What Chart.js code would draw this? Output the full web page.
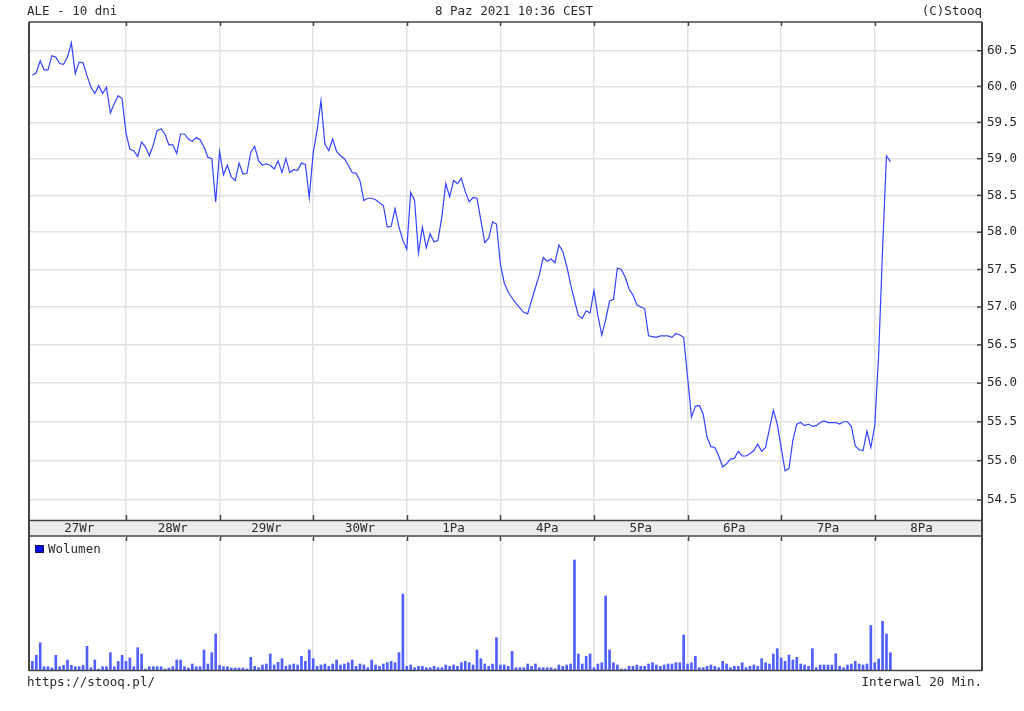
<!DOCTYPE html>
<html><head><meta charset="utf-8">
<script src="https://cdn.jsdelivr.net/npm/chart.js@4.4.0/dist/chart.umd.min.js"></script>
<style>
html,body{margin:0;padding:0;background:#fff;}
#wrap{position:relative;width:1024px;height:711px;background:#fff;}
canvas{position:absolute;left:0;top:0;}
</style></head><body>
<div id="wrap"><canvas id="price" width="1024" height="711"></canvas><canvas id="vol" width="1024" height="711"></canvas></div>
<script>
const titleText = "ALE - 10 dni";
const stampText = "8 Paz 2021 10:36 CEST";
const sourceText = "(C)Stooq";
const footLeft = "https://stooq.pl/";
const footRight = "Interwal 20 Min.";
const volumeLabel = "Wolumen";
const dayLabels = ["27Wr","28Wr","29Wr","30Wr","1Pa","4Pa","5Pa","6Pa","7Pa","8Pa"];
const barsPerDay = 24;
const priceTicks = [54.5,55.0,55.5,56.0,56.5,57.0,57.5,58.0,58.5,59.0,59.5,60.0,60.5];

const prices = [
60.16,60.19,60.36,60.23,60.23,60.43,60.41,60.32,60.31,60.41,
60.61,60.18,60.34,60.33,60.15,59.99,59.90,60.01,59.90,59.99,
59.63,59.76,59.87,59.83,59.35,59.13,59.11,59.03,59.23,59.16,
59.04,59.19,59.39,59.41,59.34,59.19,59.19,59.07,59.34,59.34,
59.27,59.24,59.29,59.26,59.16,59.02,59.00,58.41,59.10,58.78,
58.91,58.75,58.70,58.94,58.79,58.80,59.09,59.17,58.97,58.91,
58.93,58.91,58.86,58.97,58.81,59.00,58.81,58.85,58.84,58.94,
58.92,58.47,59.08,59.39,59.80,59.20,59.11,59.27,59.10,59.04,
59.00,58.91,58.81,58.80,58.70,58.43,58.46,58.46,58.44,58.40,
58.36,58.07,58.08,58.32,58.07,57.89,57.77,58.54,58.43,57.72,
58.07,57.79,57.98,57.87,57.89,58.21,58.66,58.48,58.70,58.66,
58.73,58.55,58.41,58.47,58.46,58.16,57.86,57.92,58.14,58.11,
57.57,57.32,57.20,57.12,57.05,56.99,56.93,56.91,57.09,57.26,
57.43,57.66,57.61,57.64,57.59,57.83,57.74,57.55,57.30,57.09,
56.89,56.85,56.95,56.92,57.22,56.89,56.63,56.83,57.08,57.10,
57.52,57.50,57.40,57.24,57.16,57.03,57.00,56.98,56.62,56.61,
56.60,56.62,56.62,56.62,56.60,56.65,56.63,56.60,56.08,55.56,
55.70,55.71,55.60,55.30,55.18,55.17,55.06,54.92,54.96,55.02,
55.03,55.12,55.06,55.06,55.09,55.13,55.21,55.12,55.17,55.41,
55.65,55.47,55.17,54.87,54.90,55.26,55.47,55.49,55.45,55.47,
55.44,55.45,55.49,55.51,55.49,55.49,55.49,55.47,55.50,55.50,
55.44,55.19,55.14,55.13,55.38,55.17,55.45,56.37,57.76,59.04,58.96
];

const volumes = [
8.7,14.7,27.3,3.3,3.3,2,14.7,3.3,4.7,10,
4.7,3.3,3.3,4.7,23.7,2.3,10,1,3.3,3.3,
17.3,3.3,8.7,14.7,8.7,12,3.3,22.3,16,1,
3.3,3.3,3.3,3.3,1,2,3.3,10,10,3.3,
2,6,3.3,3.3,20,6,17.3,36,4.7,3.3,
3.3,2,2,2,2,1,12.7,3.7,2.3,5,
6,16,5,7.7,11.3,3.7,5,6,5,13.7,
8.7,20,11.3,3.7,5,6,3.7,6,10,5,
6,7.3,10,3.7,6,5,2.3,10,5,3.7,
6,7.3,8.7,7.3,17.3,76,3.7,5,2.3,3.7,
3.7,2.3,2.3,3.7,2.3,2.3,5,3.7,5,3.7,
7.3,8.7,7.3,5,20,11.3,6,3.7,6,32.3,
5,5,3.7,18.7,2.3,2.3,2.3,6,3.7,6,
2.3,2.3,2.3,2.3,1.3,5,3.7,5,6,110,
16,6,13.7,16,2.3,6,7.3,74,20,7.3,
5,1,1,3.7,3.7,5,3.7,3.7,6,7.3,
5,3.7,5,6,6,7.3,7.3,35,6,7.3,
13.7,2.3,2.3,3.7,5,3.7,2.3,8.7,6,2.3,
3.7,3.7,7.3,2.3,3.7,5,3.7,11.3,7.3,6,
16,21.3,12,8.7,15,10,12.7,6,5,3.7,
21.3,2.3,5,5,5,5,16.3,3.7,2.3,5,
6,8.7,6,5,6,44.7,7.3,11,48.7,36,17.3
];

const FONT = "'DejaVu Sans Mono', monospace";
const FSIZE = 12.5;
const TXT = '#2a2a2a';
const FRAME = '#444';
const GRID = '#e2e2e2';
const xMin = -0.87, xMax = 243.5;
const dayBounds = dayLabels.slice(1).map((_, i) => (i + 1) * barsPerDay);

function line(ctx, x1, y1, x2, y2, w, c) {
  ctx.save(); ctx.strokeStyle = c; ctx.lineWidth = w;
  ctx.beginPath(); ctx.moveTo(x1, y1); ctx.lineTo(x2, y2); ctx.stroke(); ctx.restore();
}

const priceDecor = {
  id: 'priceDecor',
  afterDraw(chart) {
    const ctx = chart.ctx, a = chart.chartArea;
    const xs = chart.scales.x, ys = chart.scales.y;
    ctx.save();
    ctx.font = FSIZE + 'px ' + FONT;
    ctx.fillStyle = TXT;
    ctx.textBaseline = 'alphabetic';
    ctx.textAlign = 'left'; ctx.fillText(titleText, 27, 15);
    ctx.textAlign = 'center'; ctx.fillText(stampText, 514, 15);
    ctx.textAlign = 'right'; ctx.fillText(sourceText, a.right, 15);
    ctx.textAlign = 'left'; ctx.fillText(footLeft, 27, 686);
    ctx.textAlign = 'right'; ctx.fillText(footRight, a.right, 686);
    // date band
    const bTop = a.bottom, bBot = bTop + 16;
    ctx.fillStyle = '#ebebeb';
    ctx.fillRect(a.left, bTop, a.right - a.left, bBot - bTop);
    line(ctx, a.left, bTop + 0.5, a.right, bTop + 0.5, 1.6, FRAME);
    line(ctx, a.left, bBot, a.right, bBot, 1.6, FRAME);
    ctx.fillStyle = TXT; ctx.textAlign = 'center'; ctx.textBaseline = 'middle';
    dayLabels.forEach((lab, i) => {
      const s = Math.max(i * barsPerDay, xMin), e = Math.min((i + 1) * barsPerDay, xMax);
      ctx.fillText(lab, xs.getPixelForValue((s + e) / 2), (bTop + bBot) / 2 + 1);
    });
    // frame of price panel
    line(ctx, a.left, a.top, a.right, a.top, 1.6, FRAME);
    line(ctx, a.left, a.top, a.left, bBot, 2, FRAME);
    line(ctx, a.right, a.top, a.right, bBot, 2, FRAME);
    // tick marks at day boundaries
    dayBounds.forEach(v => {
      const px = Math.round(xs.getPixelForValue(v)) + 0.5;
      line(ctx, px, a.top, px, a.top + 4, 1.5, FRAME);
      line(ctx, px, bTop - 5, px, bTop, 1.5, FRAME);
    });
    // inward y ticks
    priceTicks.forEach(v => {
      const py = ys.getPixelForValue(v);
      line(ctx, a.right - 5, py, a.right, py, 1.5, FRAME);
    });
    ctx.restore();
  }
};

const volDecor = {
  id: 'volDecor',
  afterDraw(chart) {
    const ctx = chart.ctx, a = chart.chartArea, xs = chart.scales.x;
    ctx.save();
    line(ctx, a.left, a.top, a.left, a.bottom + 1, 2, FRAME);
    line(ctx, a.right, a.top, a.right, a.bottom + 1, 2, FRAME);
    line(ctx, a.left, a.bottom + 0.5, a.right, a.bottom + 0.5, 1.6, FRAME);
    dayBounds.forEach(v => {
      const px = Math.round(xs.getPixelForValue(v)) + 0.5;
      line(ctx, px, a.top, px, a.top + 5, 1.5, FRAME);
    });
    ctx.fillStyle = '#0010e0';
    ctx.fillRect(35, 545, 9, 8);
    ctx.strokeStyle = '#101060'; ctx.lineWidth = 1;
    ctx.strokeRect(35.5, 545.5, 8, 7);
    ctx.font = FSIZE + 'px ' + FONT;
    ctx.fillStyle = TXT; ctx.textAlign = 'left'; ctx.textBaseline = 'alphabetic';
    ctx.fillText(volumeLabel, 48, 553);
    ctx.restore();
  }
};

const xCommon = () => ({
  type: 'linear', min: xMin, max: xMax, offset: false,
  afterBuildTicks: s => { s.ticks = dayBounds.map(v => ({ value: v })); },
  ticks: { display: false },
  grid: { color: GRID, lineWidth: 1.5, drawTicks: false, offset: false },
  border: { display: false },
  afterFit: s => { s.height = 0; }
});

new Chart(document.getElementById('price'), {
  type: 'line',
  data: { datasets: [{
    data: prices.map((p, i) => ({ x: i, y: p })),
    borderColor: '#3344ff', borderWidth: 1.2, pointRadius: 0, tension: 0, fill: false
  }] },
  options: {
    responsive: false, animation: false, events: [],
    layout: { padding: { left: 29, top: 22, right: 0, bottom: 191 } },
    plugins: { legend: { display: false }, tooltip: { enabled: false } },
    scales: {
      x: xCommon(),
      y: {
        type: 'logarithmic', position: 'right', min: 54.247, max: 60.905,
        afterBuildTicks: s => { s.ticks = priceTicks.map(v => ({ value: v })); },
        ticks: { callback: v => Number(v).toFixed(1), font: { family: FONT, size: FSIZE }, color: TXT, padding: 5, autoSkip: false },
        grid: { color: GRID, lineWidth: 1.5, drawTicks: false },
        border: { display: false },
        afterFit: s => { s.width = 42; }
      }
    }
  },
  plugins: [priceDecor]
});

new Chart(document.getElementById('vol'), {
  type: 'bar',
  data: { datasets: [{
    data: volumes.map((v, i) => ({ x: i, y: v })),
    backgroundColor: '#5060ff', barThickness: 2, borderWidth: 0
  }] },
  options: {
    responsive: false, animation: false, events: [],
    layout: { padding: { left: 29, top: 536, right: 42, bottom: 41 } },
    plugins: { legend: { display: false }, tooltip: { enabled: false } },
    scales: {
      x: xCommon(),
      y: { display: false, min: 0, max: 134 }
    }
  },
  plugins: [volDecor]
});
</script>
</body></html>
